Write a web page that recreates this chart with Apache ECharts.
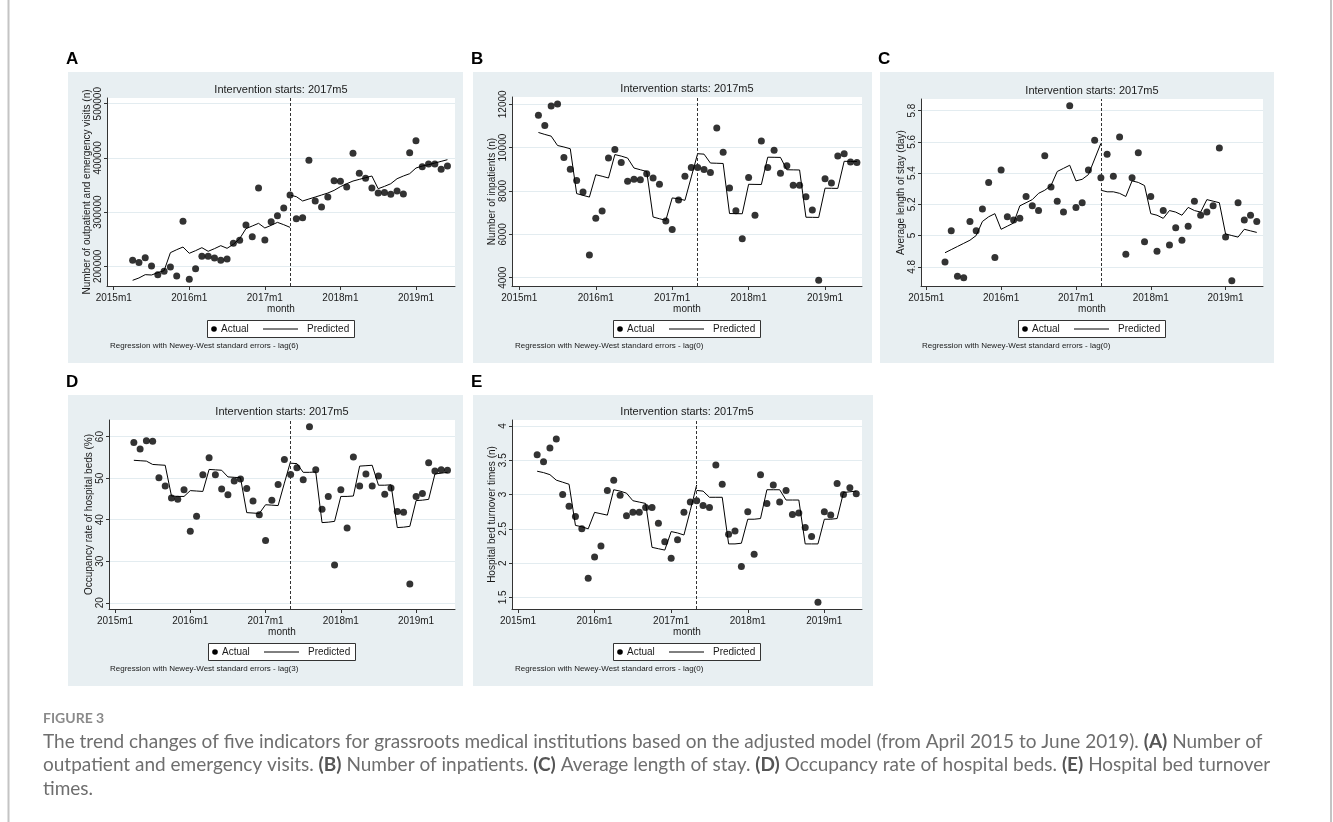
<!DOCTYPE html>
<html><head><meta charset="utf-8">
<script src="https://cdn.jsdelivr.net/npm/echarts@6/dist/echarts.min.js"></script>
<style>html,body{margin:0;padding:0;background:#fff}#c{width:1333px;height:822px}</style>
</head><body><div id="c"></div><script>
// ---------- DATA ----------
const months = ['2015m4','2015m5','2015m6','2015m7','2015m8','2015m9','2015m10','2015m11','2015m12',
  '2016m1','2016m2','2016m3','2016m4','2016m5','2016m6','2016m7','2016m8','2016m9','2016m10','2016m11','2016m12',
  '2017m1','2017m2','2017m3','2017m4','2017m5','2017m6','2017m7','2017m8','2017m9','2017m10','2017m11','2017m12',
  '2018m1','2018m2','2018m3','2018m4','2018m5','2018m6','2018m7','2018m8','2018m9','2018m10','2018m11','2018m12',
  '2019m1','2019m2','2019m3','2019m4','2019m5','2019m6'];
const interventionMonth = '2017m5';
const xTickLabels = ['2015m1','2016m1','2017m1','2018m1','2019m1'];

const actualA = [211000,207000,216000,200500,184600,190800,198800,182200,283000,
  176000,195700,218400,218400,215400,211000,213500,242400,248000,276200,254700,344400,
  248600,282400,293400,307600,331500,287900,289700,395500,320500,309400,327800,358000,
  356700,346300,408400,371500,362300,344400,335200,336400,332800,338900,333400,409600,
  431700,383800,388700,388700,378900,385000];
const predPreA = [174200,178500,184600,184000,188300,192000,225200,230700,235600,
  224000,228900,234400,227700,232600,238100,233200,240600,251000,269500,274400,279300,
  270700,275600,281100,276800,271900];
const predPostA = [331500,328500,320500,324200,327800,331500,335200,340100,
  346900,352400,357300,360400,363500,366600,343200,347500,352400,361600,366600,370900,
  381300,385000,387500,390500,393600,396700];
const yTicksA = [200000,300000,400000,500000];

const actualB = [11490,11020,11920,12010,9550,9000,8480,7950,5050,
  6740,7080,9520,9920,9310,8450,8540,8520,8800,8600,8310,6620,
  6220,7590,8680,9090,9090,8990,8850,10910,9790,8140,7090,5800,
  8620,6880,10310,9090,9880,8820,9170,8260,8260,7740,7120,3880,
  8570,8370,9620,9720,9340,9310];
const predPreB = [10700,10610,10530,10100,10030,9950,7880,7800,7720,
  8750,8680,8600,9680,9610,9520,9060,8980,8900,6800,6720,6650,
  7680,7640,7570,8650,9730];
const predPostB = [9720,9700,9290,9280,9270,6960,6955,6950,
  8310,8305,8300,9560,9555,9550,8980,8975,8970,6790,6785,6780,
  8130,8125,8120,9370,9365,9360];
const yTicksB = [4000,6000,8000,10000,12000];

const actualC = [4.83,5.03,4.74,4.73,5.09,5.03,5.17,5.34,4.86,
  5.42,5.12,5.10,5.11,5.25,5.19,5.16,5.51,5.31,5.22,5.15,5.83,
  5.18,5.21,5.42,5.61,5.37,5.52,5.38,5.63,4.88,5.37,5.53,4.96,
  5.25,4.90,5.16,4.94,5.05,4.97,5.06,5.22,5.13,5.15,5.19,5.56,
  4.99,4.71,5.21,5.10,5.13,5.09];
const predPreC = [4.89,4.91,4.93,4.95,4.97,5.00,5.09,5.12,5.14,
  5.04,5.06,5.08,5.19,5.21,5.23,5.27,5.29,5.32,5.41,5.43,5.45,
  5.35,5.36,5.39,5.49,5.59];
const predPostC = [5.29,5.28,5.28,5.27,5.25,5.35,5.34,5.32,
  5.14,5.13,5.11,5.16,5.15,5.13,5.18,5.16,5.15,5.23,5.22,5.21,
  5.01,5.00,4.99,5.04,5.03,5.02];
const yTicksC = [4.8,5,5.2,5.4,5.6,5.8];

const actualD = [58.6,57.0,59.0,58.9,50.1,48.1,45.2,44.9,47.2,
  37.2,40.8,50.8,54.9,50.8,47.4,46.0,49.3,49.8,47.5,44.5,41.2,
  35.0,44.7,48.5,54.5,50.9,52.5,49.6,62.4,52.0,42.5,45.6,29.1,
  47.2,38.0,55.1,48.1,51.0,48.1,50.5,46.1,47.6,42.0,41.8,24.5,
  45.6,46.3,53.7,51.7,52.0,51.9];
const predPreD = [54.3,54.2,54.1,53.3,53.2,53.1,45.7,45.6,45.6,
  47.0,46.9,46.8,52.1,52.0,51.9,50.3,50.2,50.1,41.7,41.6,41.5,
  43.6,43.5,43.4,48.8,54.1];
const predPostD = [53.6,53.5,51.4,51.4,51.5,39.3,39.4,39.6,
  45.6,45.6,45.7,52.9,53.0,53.1,48.3,48.3,48.4,38.1,38.2,38.4,
  44.6,44.7,44.9,51.0,51.2,51.4];
const yTicksD = [20,30,40,50,60];

const actualE = [3.58,3.48,3.68,3.81,3.00,2.83,2.68,2.50,1.78,
  2.09,2.25,3.06,3.21,2.99,2.69,2.74,2.74,2.81,2.81,2.58,2.31,
  2.07,2.34,2.74,2.89,2.91,2.84,2.81,3.43,3.15,2.42,2.47,1.95,
  2.75,2.13,3.29,2.87,3.14,2.89,3.06,2.71,2.73,2.52,2.39,1.43,
  2.75,2.70,3.16,3.00,3.10,3.01];
const predPreE = [3.34,3.32,3.29,3.21,3.18,3.15,2.55,2.53,2.50,
  2.74,2.72,2.70,3.07,3.05,3.02,2.91,2.89,2.87,2.23,2.21,2.19,
  2.46,2.44,2.41,2.77,3.14];
const predPostE = [3.06,3.05,2.96,2.96,2.96,2.28,2.28,2.29,
  2.64,2.64,2.65,3.07,3.07,3.07,2.92,2.92,2.92,2.28,2.28,2.28,
  2.64,2.64,2.65,3.03,3.04,3.05];
const yTicksE = [1.5,2,2.5,3,3.5,4];

const preMonths = months.slice(0, months.indexOf(interventionMonth) + 1);
const postMonths = months.slice(months.indexOf(interventionMonth));

// ---------- BUILD ----------
function mIdx(s){ const p = s.split('m'); return (Number(p[0]) - 2015) * 12 + Number(p[1]) - 1; }
const xTickVals = xTickLabels.map(mIdx);
const pair = (ms, vs) => ms.map((m, i) => [mIdx(m), vs[i]]);

const FONT = '"Liberation Sans", Arial, sans-serif';
const TXT = '#1a1a1a';
const panels = [
  {key:'A', box:[68,72,395,291], g:[107,98,348,188], xr:[-1.07,54.2], yr:[163700,510500], yt:yTicksA,
   yname:'Number of outpatient and emergency visits (n)', lag:'lag(6)', act:actualA, pre:predPreA, post:predPostA},
  {key:'B', box:[473,72,399,291], g:[512,97,350,189], xr:[-1.15,53.8], yr:[3617,12337], yt:yTicksB,
   yname:'Number of inpatients (n)', lag:'lag(0)', act:actualB, pre:predPreB, post:predPostB},
  {key:'C', box:[880,72,394,291], g:[921,99,342,187], xr:[-0.85,54.0], yr:[4.677,5.874], yt:yTicksC,
   yname:'Average length of stay (day)', lag:'lag(0)', act:actualC, pre:predPreC, post:predPostC},
  {key:'D', box:[68,395,395,291], g:[109,420,346,189], xr:[-0.96,54.2], yr:[18.5,64.0], yt:yTicksD,
   yname:'Occupancy rate of hospital beds (%)', lag:'lag(3)', act:actualD, pre:predPreD, post:predPostD},
  {key:'E', box:[473,395,400,291], g:[512,420,350,189], xr:[-0.94,53.9], yr:[1.331,4.087], yt:yTicksE,
   yname:'Hospital bed turnover times (n)', lag:'lag(0)', act:actualE, pre:predPreE, post:predPostE}
];

const grid = [], xAxis = [], yAxis = [], series = [], graphic = [];
panels.forEach((p, i) => {
  const [gl, gt, gw, gh] = p.g;
  grid.push({left:gl, top:gt, width:gw, height:gh, containLabel:false});
  xAxis.push({type:'value', gridIndex:i, min:p.xr[0], max:p.xr[1],
    name:'month', nameLocation:'middle', nameGap:18,
    nameTextStyle:{fontFamily:FONT, fontSize:10, color:TXT},
    axisLine:{onZero:false, lineStyle:{color:'#333', width:1}},
    axisTick:{customValues:xTickVals, length:4, lineStyle:{color:'#333'}},
    axisLabel:{customValues:xTickVals, margin:7, fontFamily:FONT, fontSize:10, color:TXT,
      formatter:v => xTickLabels[xTickVals.indexOf(Math.round(v))] || ''},
    splitLine:{show:false}});
  yAxis.push({type:'value', gridIndex:i, min:p.yr[0], max:p.yr[1],
    name:p.yname, nameLocation:'middle', nameGap:15, nameRotate:90,
    nameTextStyle:{fontFamily:FONT, fontSize:10, color:TXT},
    axisLine:{show:true, onZero:false, lineStyle:{color:'#333', width:1}},
    axisTick:{show:true, customValues:p.yt, length:3, lineStyle:{color:'#333'}},
    axisLabel:{customValues:p.yt, rotate:90, margin:4, fontFamily:FONT, fontSize:10, color:TXT,
      formatter:v => String(v)},
    splitLine:{show:true, lineStyle:{color:'#e3ecf0', width:1}}});
  series.push({type:'scatter', name:'Actual', xAxisIndex:i, yAxisIndex:i, symbolSize:7,
    itemStyle:{color:'#000'}, data:pair(months, p.act), z:4,
    markLine:{silent:true, symbol:'none', label:{show:false}, animation:false,
      lineStyle:{color:'#333', type:[3,2], width:1}, data:[{xAxis:mIdx(interventionMonth)}]}});
  series.push({type:'line', name:'Predicted', xAxisIndex:i, yAxisIndex:i, showSymbol:false, symbol:'none',
    lineStyle:{color:'#000', width:1}, data:pair(preMonths, p.pre), z:3});
  series.push({type:'line', name:'Predicted', xAxisIndex:i, yAxisIndex:i, showSymbol:false, symbol:'none',
    lineStyle:{color:'#000', width:1}, data:pair(postMonths, p.post), z:3});

  // panel background, plot region
  graphic.push({type:'rect', silent:true, z:-20, shape:{x:p.box[0], y:p.box[1], width:p.box[2], height:p.box[3]}, style:{fill:'#e8eff2'}});
  graphic.push({type:'rect', silent:true, z:-15, shape:{x:gl, y:gt, width:gw, height:gh}, style:{fill:'#ffffff'}});
  // panel letter
  graphic.push({type:'text', silent:true, x:p.box[0] - 2, y:p.box[1] - 13,
    style:{text:p.key, fontFamily:FONT, fontSize:17, fontWeight:'bold', fill:'#000', align:'left', verticalAlign:'middle'}});
  const cx = gl + gw / 2;
  // subtitle
  graphic.push({type:'text', silent:true, x:cx, y:gt - 8,
    style:{text:'Intervention starts: ' + interventionMonth, fontFamily:FONT, fontSize:11, fill:TXT, align:'center', verticalAlign:'middle'}});
  // legend
  const lx = cx - 74, ly = gt + gh + 34;
  graphic.push({type:'rect', silent:true, z:5, shape:{x:lx + 0.5, y:ly + 0.5, width:147, height:17}, style:{fill:'#fff', stroke:'#333', lineWidth:1}});
  graphic.push({type:'circle', silent:true, z:6, shape:{cx:lx + 7, cy:ly + 9, r:2.8}, style:{fill:'#000'}});
  graphic.push({type:'text', silent:true, z:6, x:lx + 14, y:ly + 9.5,
    style:{text:'Actual', fontFamily:FONT, fontSize:10, fill:TXT, align:'left', verticalAlign:'middle'}});
  graphic.push({type:'line', silent:true, z:6, shape:{x1:lx + 56, y1:ly + 9, x2:lx + 91, y2:ly + 9}, style:{stroke:'#000', lineWidth:1}});
  graphic.push({type:'text', silent:true, z:6, x:lx + 100, y:ly + 9.5,
    style:{text:'Predicted', fontFamily:FONT, fontSize:10, fill:TXT, align:'left', verticalAlign:'middle'}});
  // note
  graphic.push({type:'text', silent:true, x:p.box[0] + 42, y:gt + gh + 60,
    style:{text:'Regression with Newey-West standard errors - ' + p.lag, fontFamily:FONT, fontSize:8, fill:TXT, align:'left', verticalAlign:'middle'}});
});

// frame + caption
graphic.push({type:'line', silent:true, shape:{x1:8.5, y1:0, x2:8.5, y2:822}, style:{stroke:'#c4c4c4', lineWidth:2}});
graphic.push({type:'line', silent:true, shape:{x1:1331, y1:0, x2:1331, y2:822}, style:{stroke:'#c4c4c4', lineWidth:2}});
const CAPF = 'Lato, "Open Sans", sans-serif';
graphic.push({type:'text', silent:true, x:43, y:718,
  style:{text:'FIGURE 3', fontFamily:CAPF, fontSize:14, fontWeight:'bold', fill:'#8a8a8a', align:'left', verticalAlign:'middle'}});
const capLines = [
  'The trend changes of five indicators for grassroots medical institutions based on the adjusted model (from April 2015 to June 2019). {b|(A)} Number of',
  'outpatient and emergency visits. {b|(B)} Number of inpatients. {b|(C)} Average length of stay. {b|(D)} Occupancy rate of hospital beds. {b|(E)} Hospital bed turnover',
  'times.'
];
capLines.forEach((t, k) => {
  graphic.push({type:'text', silent:true, x:43, y:742 + k * 23.3,
    style:{text:t, fontFamily:CAPF, fontSize:19, fill:'#6e6e6e', align:'left', verticalAlign:'middle',
      rich:{b:{fontFamily:CAPF, fontSize:19, fontWeight:'bold', fill:'#555'}}}});
});

const chart = echarts.init(document.getElementById('c'), null, {renderer:'canvas', width:1333, height:822});
chart.setOption({animation:false, backgroundColor:'#fff', grid, xAxis, yAxis, series, graphic});
</script></body></html>
